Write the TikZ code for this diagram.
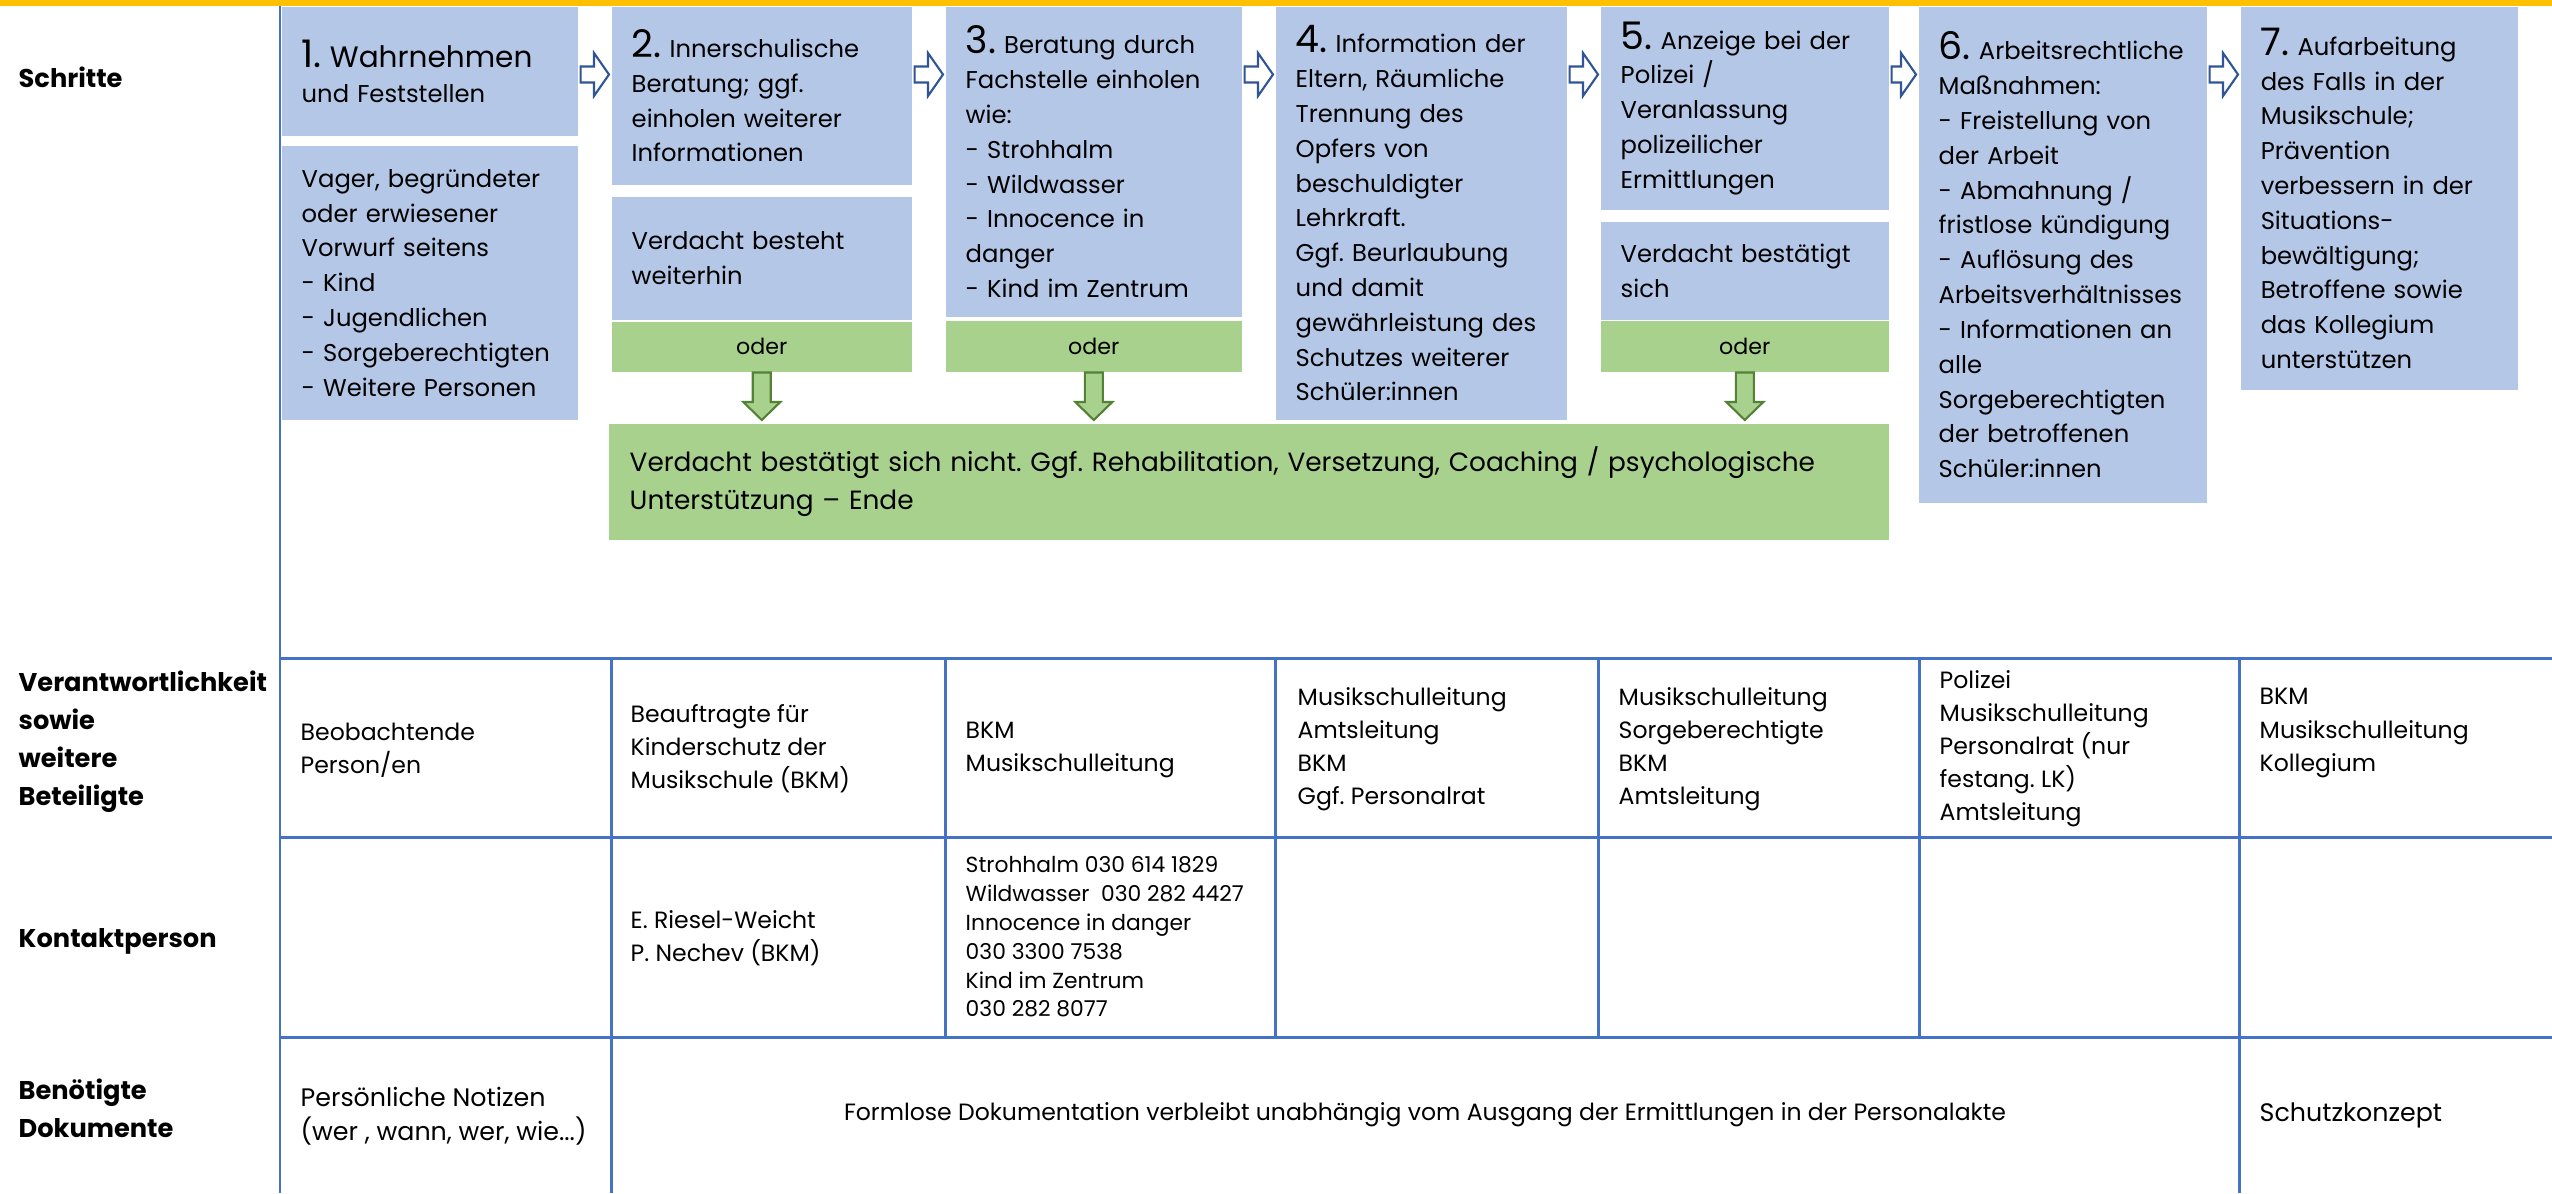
\documentclass[tikz,border=0pt]{standalone}
\usepackage{fontspec}
\setmainfont{Poppins}
\usetikzlibrary{calc}
\frenchspacing

\definecolor{stepblue}{HTML}{B4C7E7}
\definecolor{endgreen}{HTML}{A9D18E}
\definecolor{arrowblue}{HTML}{2F5597}
\definecolor{arrowgreen}{HTML}{538135}
\definecolor{tableblue}{HTML}{4472C4}
\definecolor{topbar}{HTML}{FFC000}

\newcommand{\boxfont}{\fontsize{6.9}{9.9}\selectfont}
\newcommand{\bignum}[1]{{\fontsize{10.8}{10}\selectfont #1}}
\newcommand{\oderfont}{\fontsize{6.3}{8}\selectfont}
\newcommand{\closefont}{\fontsize{7.5}{10.6}\selectfont}
\newcommand{\headfont}{\fontsize{7.3}{10.8}\selectfont\bfseries}
\newcommand{\cellfont}{\fontsize{6.7}{9.4}\selectfont}
\newcommand{\notefont}{\fontsize{7.2}{9.7}\selectfont}
\newcommand{\phonefont}{\fontsize{6.2}{8.2}\selectfont}

\tikzstyle{stepbox} = [rectangle, anchor=north west, fill=stepblue, align=left, inner xsep=0.2cm, inner ysep=0cm, font=\boxfont]
\tikzstyle{oderbox} = [rectangle, anchor=north west, fill=endgreen, inner sep=0cm, font=\oderfont]
\tikzstyle{endbox} = [rectangle, anchor=north west, fill=endgreen, align=left, inner xsep=0.21cm, inner ysep=0cm, font=\closefont]
\tikzstyle{head} = [anchor=west, align=left, inner sep=0cm, font=\headfont]
\tikzstyle{cell} = [anchor=west, align=left, inner sep=0cm, font=\cellfont]
\tikzstyle{grid} = [draw=tableblue, line width=0.85pt]
\tikzstyle{stepArr} = [draw=arrowblue, fill=white, line width=0.6pt]
\tikzstyle{oderArr} = [draw=arrowgreen, fill=endgreen, line width=0.6pt]

% block arrow from one step to the next
\newcommand{\nextstep}[2]{%
  \draw [stepArr] ($(#1.east |- ay)+(2,-8)$) -- ($(#2.west |- ay)+(-17,-8)$) -- ($(#2.west |- ay)+(-17,-21.5)$) -- ($(#2.west |- ay)+(-2,0)$) -- ($(#2.west |- ay)+(-17,21.5)$) -- ($(#2.west |- ay)+(-17,8)$) -- ($(#1.east |- ay)+(2,8)$) -- cycle;}
% block arrow down from an "oder" box
\newcommand{\orbranch}[2]{%
  \draw [oderArr] ($(#1.south)+(-9,0)$) -- ($(#1.south |- #2.north)+(-9,-21)$) -- ($(#1.south |- #2.north)+(-18.5,-21)$) -- ($(#1.south |- #2.north)+(0,-3)$) -- ($(#1.south |- #2.north)+(18.5,-21)$) -- ($(#1.south |- #2.north)+(9,-21)$) -- ($(#1.south)+(9,0)$) -- cycle;}

\begin{document}
\begin{tikzpicture}[x=0.01cm, y=-0.01cm]
\useasboundingbox (0,0) rectangle (2552,1193);
\fill [topbar] (0,0) rectangle (2552,6);

% table
\draw [grid] (280,6) -- (280,1193);
\foreach \y in {658,837,1037}
  \draw [grid] (280,\y) -- (2552,\y);
\foreach \x in {611,945,1275,1598,1919,2239}
  \draw [grid] (\x,658) -- (\x,1037);
\foreach \x in {611,2239}
  \draw [grid] (\x,1037) -- (\x,1193);

\node (l1) [head] at (18,77) {Schritte};
\node (l2) [head] at (18,742) {Verantwortlichkeit\\sowie\\weitere\\Beteiligte};
\node (l3) [head] at (18,941) {Kontaktperson};
\node (l4) [head] at (18,1108) {Benötigte\\Dokumente};

% steps
\node (s1) [stepbox, text width=2.56cm, minimum height=1.29cm] at (281,6) {\bignum{1.} {\fontsize{8.4}{10}\selectfont Wahrnehmen}\\und Feststellen};
\node (s1b) [stepbox, text width=2.56cm, minimum height=2.74cm] at (281,145) {Vager, begründeter\\oder erwiesener\\Vorwurf seitens\\- Kind\\- Jugendlichen\\- Sorgeberechtigten\\- Weitere Personen};
\node (s2) [stepbox, text width=2.6cm, minimum height=1.78cm] at (611,6) {\bignum{2.} Innerschulische\\Beratung; ggf.\\einholen weiterer\\Informationen};
\node (s2b) [stepbox, text width=2.6cm, minimum height=1.23cm] at (611,196) {Verdacht besteht\\weiterhin};
\node (o2) [oderbox, minimum width=3cm, minimum height=0.5cm] at (611,321) {oder};
\node (s3) [stepbox, text width=2.56cm, minimum height=3.1cm] at (945,6) {\bignum{3.} Beratung durch\\Fachstelle einholen\\wie:\\- Strohhalm\\- Wildwasser\\- Innocence in\\danger\\- Kind im Zentrum};
\node (o3) [oderbox, minimum width=2.96cm, minimum height=0.51cm] at (945,320) {oder};
\node (s4) [stepbox, text width=2.51cm, minimum height=4.13cm] at (1275,6) {\bignum{4.} Information der\\Eltern, Räumliche\\Trennung des\\Opfers von\\beschuldigter\\Lehrkraft.\\Ggf. Beurlaubung\\und damit\\gewährleistung des\\Schutzes weiterer\\Schüler:innen};
\node (s5) [stepbox, text width=2.48cm, minimum height=2.03cm] at (1600,6) {\bignum{5.} Anzeige bei der\\Polizei /\\Veranlassung\\polizeilicher\\Ermittlungen};
\node (s5b) [stepbox, text width=2.48cm, minimum height=0.98cm] at (1600,221) {Verdacht bestätigt\\sich};
\node (o5) [oderbox, minimum width=2.88cm, minimum height=0.51cm] at (1600,320) {oder};
\node (s6) [stepbox, text width=2.48cm, minimum height=4.96cm] at (1918,6) {\mbox{\bignum{6.} Arbeitsrechtliche}\\Maßnahmen:\\- Freistellung von\\der Arbeit\\- Abmahnung /\\fristlose kündigung\\- Auflösung des\\Arbeitsverhältnisses\\- Informationen an\\alle\\Sorgeberechtigten\\der betroffenen\\Schüler:innen};
\node (s7) [stepbox, text width=2.37cm, minimum height=3.83cm] at (2240,6) {\bignum{7.} Aufarbeitung\\des Falls in der\\Musikschule;\\Prävention\\verbessern in der\\Situations-\\bewältigung;\\Betroffene sowie\\das Kollegium\\unterstützen};

\node (ende) [endbox, text width=12.38cm, minimum height=1.16cm] at (608,423) {Verdacht bestätigt sich nicht. Ggf. Rehabilitation, Versetzung, Coaching / psychologische\\Unterstützung – Ende};

\coordinate (ay) at (0,74.5);
\nextstep{s1}{s2}
\nextstep{s2}{s3}
\nextstep{s3}{s4}
\nextstep{s4}{s5}
\nextstep{s5}{s6}
\nextstep{s6}{s7}

\orbranch{o2}{ende}
\orbranch{o3}{ende}
\orbranch{o5}{ende}

% who is involved
\node (v1) [cell] at (300,750) {Beobachtende\\Person/en};
\node (v2) [cell] at (630,749) {Beauftragte für\\Kinderschutz der\\Musikschule (BKM)};
\node (v3) [cell] at (965,750) {BKM\\Musikschulleitung};
\node (v4) [cell] at (1297,749) {Musikschulleitung\\Amtsleitung\\BKM\\Ggf. Personalrat};
\node (v5) [cell] at (1618,749) {Musikschulleitung\\Sorgeberechtigte\\BKM\\Amtsleitung};
\node (v6) [cell] at (1939,749) {Polizei\\Musikschulleitung\\Personalrat (nur\\festang. LK)\\Amtsleitung};
\node (v7) [cell] at (2259,733) {BKM\\Musikschulleitung\\Kollegium};

\node (k2) [cell] at (630,938) {E. Riesel-Weicht\\P. Nechev (BKM)};
\node (k3) [cell, font=\phonefont] at (965,937) {Strohhalm 030 614 1829\\Wildwasser\ \ 030 282 4427\\Innocence in danger\\030 3300 7538\\Kind im Zentrum\\030 282 8077};

\node (d1) [cell, font=\notefont] at (300,1116) {Persönliche Notizen\\(wer , wann, wer, wie...)};
\node (d2) [cell, anchor=center] at (1425,1115) {Formlose Dokumentation verbleibt unabhängig vom Ausgang der Ermittlungen in der Personalakte};
\node (d3) [cell, font=\notefont] at (2259,1115) {Schutzkonzept};

\end{tikzpicture}
\end{document}
